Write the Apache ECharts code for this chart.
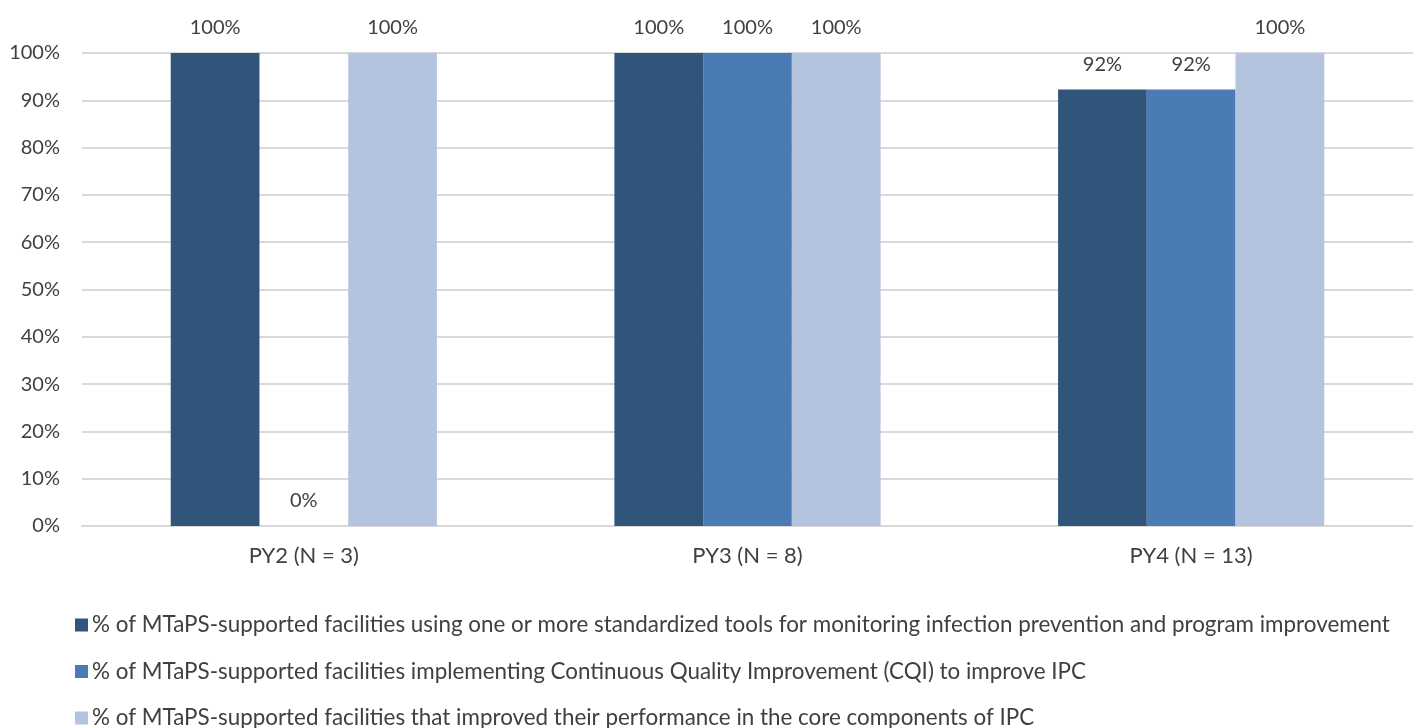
<!DOCTYPE html>
<html><head><meta charset="utf-8">
<script src="https://cdn.jsdelivr.net/npm/echarts@6/dist/echarts.min.js"></script>
<style>html,body{margin:0;padding:0;background:#fff;overflow:hidden}#c{width:1413px;height:728px}</style>
</head><body><div id="c"></div>
<script>
const categories = ['PY2 (N = 3)', 'PY3 (N = 8)', 'PY4 (N = 13)'];
const seriesNames = [
  '% of MTaPS-supported facilities using one or more standardized tools for monitoring infection prevention and program improvement',
  '% of MTaPS-supported facilities implementing Continuous Quality Improvement (CQI) to improve IPC',
  '% of MTaPS-supported facilities that improved their performance in the core components of IPC'
];
const toolsValues = [100, 100, 92.3];
const cqiValues = [0, 100, 92.3];
const improvedValues = [100, 100, 100];
const colors = ['#31557A', '#4A7BB4', '#B5C4DE'];

const font = 'Lato, "Open Sans", sans-serif';
const chart = echarts.init(document.getElementById('c'));
const mk = (name, data, color) => ({
  name, type: 'bar', data, barGap: '0%', barCategoryGap: '40%',
  itemStyle: { color },
  label: { show: true, position: 'top', distance: 15, color: '#404040', fontSize: 20, fontFamily: font,
    formatter: p => Math.round(p.value) + '%' }
});
chart.setOption({
  animation: false,
  textStyle: { fontFamily: font },
  grid: { left: 82, right: -10, top: 53, bottom: 202, containLabel: false },
  xAxis: { type: 'category', data: categories,
    axisLine: { lineStyle: { color: '#d9d9d9', width: 2 } }, axisTick: { show: false },
    axisLabel: { color: '#404040', fontSize: 22, fontFamily: font, margin: 19 } },
  yAxis: { type: 'value', min: 0, max: 100, interval: 10,
    axisLabel: { color: '#404040', fontSize: 20, fontFamily: font, formatter: '{value}%', margin: 22 },
    splitLine: { lineStyle: { color: '#d9d9d9', width: 2 } }, axisLine: { show: false }, axisTick: { show: false } },
  legend: { orient: 'vertical', left: 70, top: 609, height: 200, itemWidth: 13, itemHeight: 13, itemGap: 24.5,
    icon: 'rect', textStyle: { color: '#404040', fontSize: 22.4, fontFamily: font, padding: [0, 0, 0, -1] } },
  series: [mk(seriesNames[0], toolsValues, colors[0]), mk(seriesNames[1], cqiValues, colors[1]), mk(seriesNames[2], improvedValues, colors[2])]
});
</script></body></html>
